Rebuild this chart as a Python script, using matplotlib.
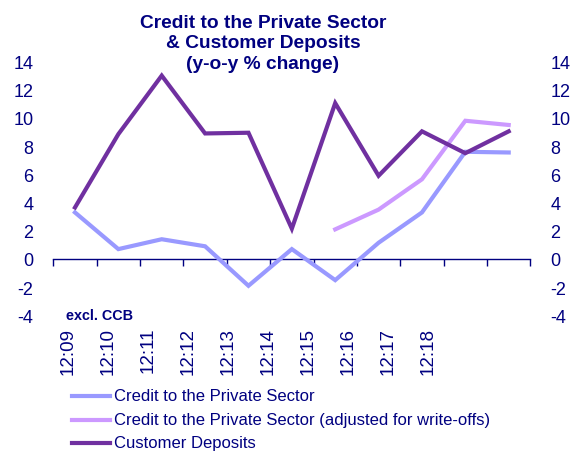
import numpy as np
import matplotlib.pyplot as plt

plt.rcParams['font.family'] = ['Liberation Sans', 'DejaVu Sans']

navy = '#000080'

periods = ['12:09', '12:10', '12:11', '12:12', '12:13', '12:14',
           '12:15', '12:16', '12:17', '12:18']
credit = [3.3, 0.7, 1.4, 0.9, -1.9, 0.7, -1.5, 1.15, 3.3, 7.6, 7.55]
credit_adj = [np.nan] * 6 + [2.1, 3.5, 5.65, 9.8, 9.5]
deposits = [3.65, 8.85, 13.0, 8.9, 8.95, 2.15, 11.05, 5.9, 9.05, 7.5, 9.05]
yticks = list(range(-4, 15, 2))

fig = plt.figure(figsize=(5.70, 4.52), dpi=100)
ax = fig.add_axes([0.0935, 0.3, 0.837, 0.5617])

x = np.arange(len(credit))
ax.plot(x, credit, color='#9999FF', lw=3.0, solid_joinstyle='miter')
ax.plot(x, credit_adj, color='#CC99FF', lw=3.0, solid_joinstyle='miter')
ax.plot(x, deposits, color='#7030A0', lw=3.0, solid_joinstyle='miter')

ax.set_xlim(-0.5, len(credit) - 0.5)
ax.set_ylim(-4, 14)
for s in ['top', 'right', 'left']:
    ax.spines[s].set_visible(False)
ax.spines['bottom'].set_position(('data', 0))
ax.spines['bottom'].set_color(navy)
ax.spines['bottom'].set_linewidth(1.0)
ax.spines['bottom'].set_zorder(1)

ax.set_xticks(np.arange(-0.5, len(credit), 1.0))
ax.set_xticklabels([])
ax.tick_params(axis='x', direction='out', length=5, width=1, color=navy)

ax.set_yticks(yticks)
ax.set_yticklabels([str(v) for v in yticks])
ax.tick_params(axis='y', length=0, pad=14.4, labelsize=13, labelcolor=navy)

ax2 = ax.twinx()
ax2.set_ylim(ax.get_ylim())
ax2.set_yticks(yticks)
ax2.set_yticklabels([str(v) for v in yticks])
ax2.tick_params(axis='y', length=0, pad=14.4, labelsize=13, labelcolor=navy)
for s in ax2.spines.values():
    s.set_visible(False)

# period labels sit on a slightly tighter spacing than the categories
label_pos = np.arange(len(periods)) * 0.923 - 0.16
for p, lab in zip(label_pos, periods):
    ax.text(p, -0.045, lab, transform=ax.get_xaxis_transform(),
            rotation=90, ha='center', va='top', fontsize=13.5, color=navy)

ax.text(0.027, -0.0, 'excl. CCB', transform=ax.transAxes,
        ha='left', va='center', fontsize=10.4, fontweight='bold', color=navy)

fig.text(263 / 570, 1 - 44 / 452,
         'Credit to the Private Sector\n& Customer Deposits\n(y-o-y % change)',
         ha='center', va='center', fontsize=13.8, fontweight='bold',
         color=navy, linespacing=1.28)

legend_items = [('Credit to the Private Sector', '#9999FF'),
                ('Credit to the Private Sector (adjusted for write-offs)', '#CC99FF'),
                ('Customer Deposits', '#7030A0')]
for i, (name, col) in enumerate(legend_items):
    yy = 1 - (397 + 23.5 * i) / 452
    fig.add_artist(plt.Line2D([72 / 570, 110 / 570], [yy, yy],
                              color=col, lw=3.0, transform=fig.transFigure))
    fig.text(114 / 570, yy, name, ha='left', va='center',
             fontsize=12, color=navy)

fig.savefig('out.png', dpi=100)
